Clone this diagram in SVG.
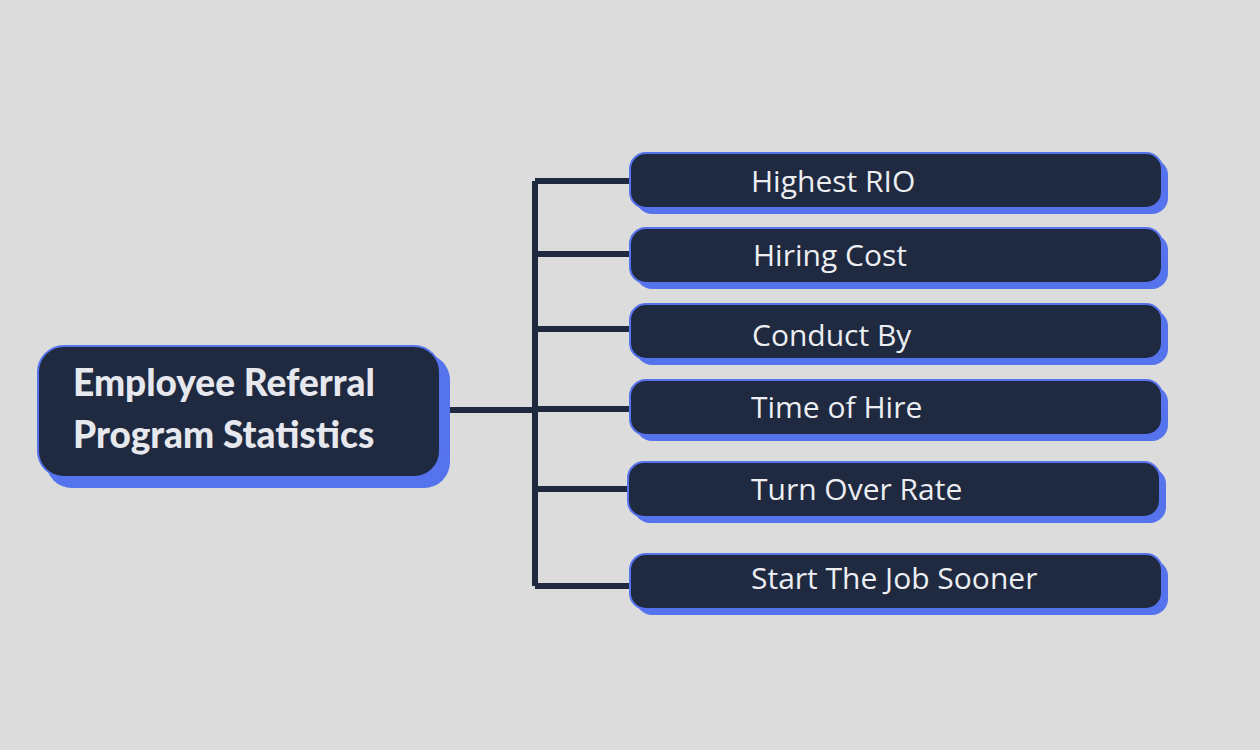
<svg xmlns="http://www.w3.org/2000/svg" width="1260" height="750" viewBox="0 0 1260 750">
<style>
.sh{fill:#5673ee}
.bx{fill:#1f2940;stroke:#5673ee;stroke-width:2}
.t{fill:#eceef2;font-family:"Open Sans","Liberation Sans",sans-serif;font-size:30px}
.tm{fill:#e6e8ee;font-family:Lato,"Liberation Sans",sans-serif;font-weight:900;font-size:37px}
.c{stroke:#1f2940;stroke-width:6;fill:none}
</style>
<rect width="1260" height="750" fill="#dcdcdc"/>
<g id="connectors">
<path class="c" d="M450 410H535M535 181V586M535 181H632M535 254H632M535 329H632M535 409H632M535 489H632M535 586H632"/>
</g>
<g id="main">
<rect class="sh" x="46" y="354" width="404" height="134" rx="26"/>
<rect class="bx" x="38" y="346" width="402" height="131" rx="26"/>
<text class="tm" x="73" y="396">Employee Referral</text>
<text class="tm" x="73" y="448">Program Statistics</text>
</g>
<g id="n1"><rect class="sh" x="636" y="159" width="532" height="55" rx="16"/><rect class="bx" x="630" y="153" width="532" height="55" rx="16"/><text class="t" x="751" y="192">Highest RIO</text></g>
<g id="n2"><rect class="sh" x="636" y="234" width="532" height="55" rx="16"/><rect class="bx" x="630" y="228" width="532" height="55" rx="16"/><text class="t" x="753" y="266">Hiring Cost</text></g>
<g id="n3"><rect class="sh" x="636" y="310" width="532" height="55" rx="16"/><rect class="bx" x="630" y="304" width="532" height="55" rx="16"/><text class="t" x="752" y="346">Conduct By</text></g>
<g id="n4"><rect class="sh" x="636" y="386" width="532" height="55" rx="16"/><rect class="bx" x="630" y="380" width="532" height="55" rx="16"/><text class="t" x="751" y="418">Time of Hire</text></g>
<g id="n5"><rect class="sh" x="634" y="468" width="532" height="55" rx="16"/><rect class="bx" x="628" y="462" width="532" height="55" rx="16"/><text class="t" x="751" y="500">Turn Over Rate</text></g>
<g id="n6"><rect class="sh" x="636" y="560" width="532" height="55" rx="16"/><rect class="bx" x="630" y="554" width="532" height="55" rx="16"/><text class="t" x="751" y="589">Start The Job Sooner</text></g>
</svg>
